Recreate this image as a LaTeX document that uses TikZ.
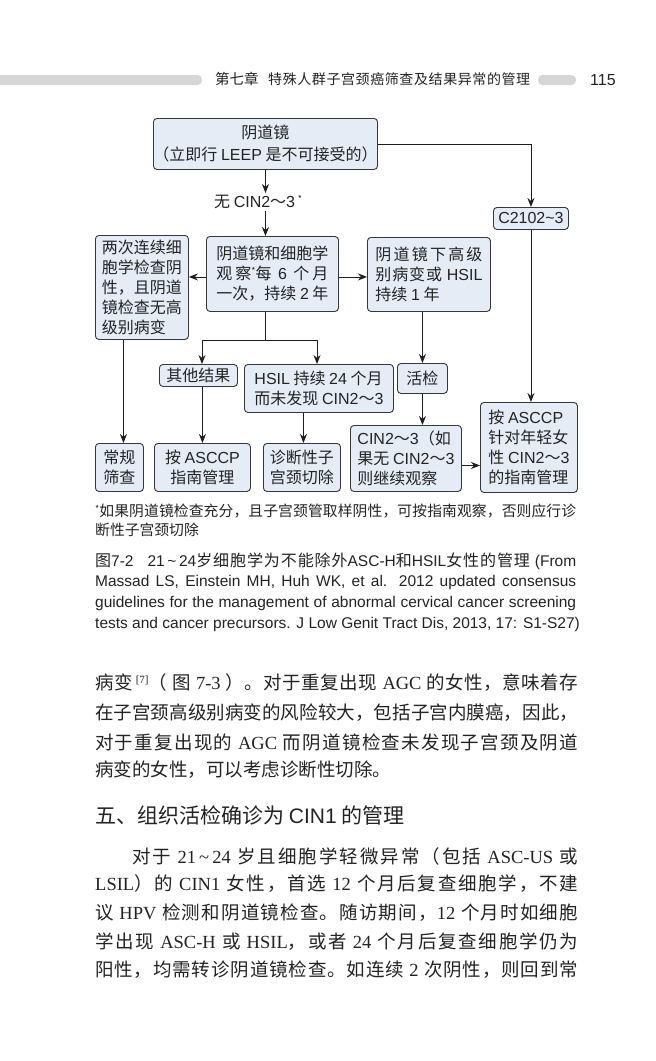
\documentclass[tikz,border=0pt]{standalone}
\usepackage{fontspec}
\setmainfont{Noto Sans CJK SC}
\newfontfamily\arialf{Liberation Sans}
\newfontfamily\timesf{Liberation Serif}
\usetikzlibrary{arrows.meta}
\newcount\cjkcnt
\cjkcnt="4E00
\loop \XeTeXcharclass\cjkcnt=1 \advance\cjkcnt by 1 \ifnum\cjkcnt<"A000 \repeat
\cjkcnt="3001
\loop \XeTeXcharclass\cjkcnt=1 \advance\cjkcnt by 1 \ifnum\cjkcnt<"3040 \repeat
\cjkcnt="FF01
\loop \XeTeXcharclass\cjkcnt=1 \advance\cjkcnt by 1 \ifnum\cjkcnt<"FF60 \repeat
\XeTeXinterchartokenstate=1
\XeTeXinterchartoks 1 1 = {\hskip 0pt plus 1pt\relax}
\definecolor{boxc}{RGB}{229,236,245}
\definecolor{bordc}{RGB}{55,55,55}
\definecolor{linec}{RGB}{30,30,30}
\definecolor{txtc}{RGB}{35,35,35}
\definecolor{barc}{RGB}{214,214,214}
\newcommand\ari[1]{{\arialf #1}}
\newcommand\tmr[1]{{\timesf #1}}
\newcommand\jb[2]{\hbox to #1{\spaceskip=0.26em plus 0.8pt minus 0.4pt\relax #2}}
\newcommand\bxf{\fontsize{16pt}{20pt}\selectfont}
\newcommand\fnf{\fontsize{14.8pt}{18pt}\selectfont}
\newcommand\cpf{\fontsize{16pt}{20pt}\selectfont}
\newcommand\cpl[1]{{\arialf\fontsize{15.5pt}{20pt}\selectfont #1}}
\newcommand\bdf{\fontsize{18.5pt}{22pt}\selectfont}
\newcommand\sstar{\raisebox{5pt}{\fontsize{9pt}{9pt}\selectfont *}}
\newcommand\wav{～}
\begin{document}
\begin{tikzpicture}[x=1pt,y=-1pt,
  box/.style={draw=bordc, fill=boxc, rounded corners=3.5pt, line width=0.9pt,
    inner sep=0pt, font=\bxf, text=txtc, anchor=north west},
  conn/.style={draw=linec, line width=0.9pt},
  arr/.style={conn, -{Stealth[length=9pt,width=7pt]}},
  txt/.style={anchor=west, inner sep=0pt, text=txtc},
]
\useasboundingbox (0,0) rectangle (656,1061);
\fill[white] (0,0) rectangle (656,1061);
% header
\fill[barc, rounded corners=4.5pt] (-12,75) rectangle (202,85);
\fill[barc, rounded corners=4.5pt] (538,75) rectangle (576,85);
\node[txt, font=\fontsize{14.5pt}{16pt}\selectfont] (h1) at (215,79) {第七章};
\node[txt, font=\fontsize{14pt}{16pt}\selectfont] (h2) at (268,79) {\jb{262pt}{特殊人群子宫颈癌筛查及结果异常的管理}};
\node[txt, font={\arialf\fontsize{16pt}{18pt}\selectfont}] (pg) at (590,80) {115};

% flowchart boxes
\node[box, minimum width=224pt, minimum height=51pt, align=center] (T) at (153,118)
  {阴道镜\\[2pt]（立即行 \ari{LEEP} 是不可接受的）};
\node[txt, inner sep=2pt, font=\bxf] (N) at (212,202) {无 \ari{CIN2}\wav\ari{3}\,\sstar};
\node[box, minimum width=93pt, minimum height=104pt, align=left] (L) at (95,235)
  {两次连续细\\胞学检查阴\\性，且阴道\\镜检查无高\\级别病变};
\node[box, minimum width=132pt, minimum height=75pt, align=left] (M) at (206,236)
  {阴道镜和细胞学\\\jb{112pt}{观察\sstar 每 \ari{6} 个月}\\一次，持续 \ari{2} 年};
\node[box, minimum width=123pt, minimum height=74pt, align=left] (R) at (367,237)
  {\jb{107pt}{阴道镜下高级}\\\jb{107pt}{别病变或 \ari{HSIL}}\\持续 \ari{1} 年};
\node[box, minimum width=75pt, minimum height=22pt, font={\arialf\bxf}] (C) at (493,207)
  {C2102\textasciitilde 3};
\node[box, minimum width=78pt, minimum height=22pt] (O) at (159,364) {其他结果};
\node[box, minimum width=149pt, minimum height=48pt, align=left] (H) at (244,364)
  {\ari{HSIL} 持续 \ari{24} 个月\\而未发现 \ari{CIN2}\wav\ari{3}};
\node[box, minimum width=50pt, minimum height=30pt] (B) at (397,363) {活检};
\node[box, minimum width=48pt, minimum height=48pt, align=center] (Ra) at (95,443) {常规\\筛查};
\node[box, minimum width=96pt, minimum height=48pt, align=center] (Rb) at (154,443) {按 \ari{ASCCP}\\指南管理};
\node[box, minimum width=77pt, minimum height=48pt, align=center] (Rc) at (263,443) {诊断性子\\宫颈切除};
\node[box, minimum width=111pt, minimum height=66pt, align=left] (Rd) at (350,425)
  {\ari{CIN2}\wav\ari{3}（如\\果无 \ari{CIN2}\wav\ari{3}\\则继续观察};
\node[box, minimum width=97pt, minimum height=90pt, align=left] (Re) at (480,402)
  {按 \ari{ASCCP}\\针对年轻女\\性 \ari{CIN2}\wav\ari{3}\\的指南管理};

% connectors
\draw[arr] (T.south) -- (T.south |- N.north);
\draw[arr] (T.south |- N.south) -- (T.south |- M.north);
\draw[arr] (T.east) -| (C.north);
\draw[arr] ([yshift=-3pt]M.west) -- ([yshift=-3pt]M.west -| L.east);
\draw[arr] ([yshift=-3pt]M.east) -- ([yshift=-3pt]M.east -| R.west);
\coordinate (bl) at (202,340);
\coordinate (bm) at (265,340);
\coordinate (br) at (317,340);
\draw[conn] (bm |- M.south) -- (bm);
\draw[conn] (bl) -- (br);
\draw[arr] (bl) -- (bl |- O.north);
\draw[arr] (br) -- (br |- H.north);
\draw[arr] (B.north |- R.south) -- (B.north);
\draw[arr] (C.south) -- (C.south |- Re.north);
\draw[arr] ([xshift=4pt]Ra.north |- L.south) -- ([xshift=4pt]Ra.north);
\draw[arr] (Rb.north |- O.south) -- (Rb.north);
\draw[arr] ([xshift=1.5pt]Rc.north |- H.south) -- ([xshift=1.5pt]Rc.north);
\draw[arr] (B.south) -- (B.south |- Rd.north);
\draw[arr] ([yshift=-7pt]Rd.east) -- ([yshift=-7pt]Rd.east -| Re.west);

% footnote
\node[txt, font=\fnf] (f1) at (95,511) {\jb{481pt}{\raisebox{4pt}{\fontsize{9pt}{9pt}\selectfont *}如果阴道镜检查充分，且子宫颈管取样阴性，可按指南观察，否则应行诊}};
\node[txt, font=\fnf] (f2) at (95,530) {断性子宫颈切除};

% caption
\node[txt, font=\cpf] (c1) at (95,561) {\jb{481pt}{图\cpl{7-2}\hskip 14pt\cpl{21\,\textasciitilde\,24}岁细胞学为不能除外\cpl{ASC-H}和\cpl{HSIL}女性的管理\cpl{ (From}}};
\node[txt] (c2) at (95,582) {\cpl{\hbox to 481pt{Massad LS, Einstein MH, Huh WK, et al. 2012 updated consensus}}};
\node[txt] (c3) at (95,603) {\cpl{\hbox to 481pt{guidelines for the management of abnormal cervical cancer screening}}};
\node[txt] (c4) at (95,624) {\cpl{tests and cancer precursors. J Low Genit Tract Dis, 2013, 17: S1-S27)}};

% body
\node[txt, font=\bdf] (b1) at (95,683) {\jb{483pt}{病变\,\raisebox{6pt}{\timesf\fontsize{11pt}{11pt}\selectfont [7]}（ 图 \tmr{7-3} ）。对于重复出现 \tmr{AGC} 的女性，意味着存}};
\node[txt, font=\bdf] (b2) at (95,713) {\jb{483pt}{在子宫颈高级别病变的风险较大，包括子宫内膜癌，因此，}};
\node[txt, font=\bdf] (b3) at (95,742) {\jb{483pt}{对于重复出现的 \tmr{AGC} 而阴道镜检查未发现子宫颈及阴道}};
\node[txt, font=\bdf] (b4) at (95,770) {病变的女性，可以考虑诊断性切除。};

\node[txt, font=\fontsize{21pt}{24pt}\selectfont] (hd) at (95,815) {五、组织活检确诊为 \ari{CIN1} 的管理};

\node[txt, font=\bdf] (p1) at (132,856) {\jb{446pt}{对于 \tmr{21\,\textasciitilde\,24} 岁且细胞学轻微异常（包括 \tmr{ASC-US} 或}};
\node[txt, font=\bdf] (p2) at (95,884) {\jb{483pt}{\tmr{LSIL}）的 \tmr{CIN1} 女性，首选 \tmr{12} 个月后复查细胞学，不建}};
\node[txt, font=\bdf] (p3) at (95,913) {\jb{483pt}{议 \tmr{HPV} 检测和阴道镜检查。随访期间，\tmr{12} 个月时如细胞}};
\node[txt, font=\bdf] (p4) at (95,942) {\jb{483pt}{学出现 \tmr{ASC-H} 或 \tmr{HSIL}，或者 \tmr{24} 个月后复查细胞学仍为}};
\node[txt, font=\bdf] (p5) at (95,970) {\jb{483pt}{阳性，均需转诊阴道镜检查。如连续 \tmr{2} 次阴性，则回到常}};
\end{tikzpicture}
\end{document}
